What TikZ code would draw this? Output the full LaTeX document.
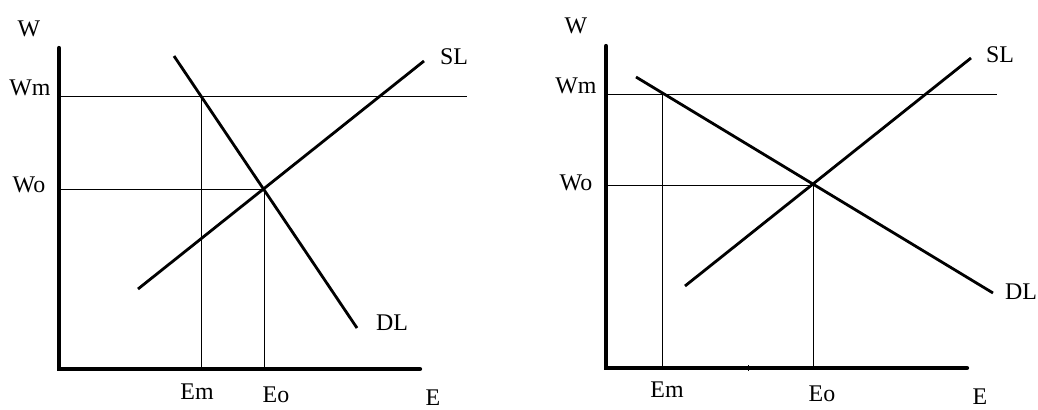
\documentclass[tikz,border=0pt]{standalone}
\usepackage{fontspec}
\setmainfont{Liberation Serif}
\begin{document}
\begin{tikzpicture}[x=0.025cm, y=-0.025cm,
        axis/.style={line width=3pt, line cap=round},
        curve/.style={line width=2pt},
        guide/.style={line width=0.7pt},
        lbl/.style={inner sep=0pt, font=\fontsize{17}{20}\selectfont}]

    \useasboundingbox (0,0) rectangle (1038,409);

    % --- Pannello sinistro ---
    \draw[axis] (59,48) -- (59,369) -- (420,369);
    \node[lbl] (wl) at (29,29) {W};
    \node[lbl] (wml) at (30,88) {Wm};
    \node[lbl] (wol) at (29,185) {Wo};
    \node[lbl] (eml) at (197,392) {Em};
    \node[lbl] (eol) at (276,395) {Eo};
    \node[lbl] (el) at (433,398) {E};
    % Linee guida
    \draw[guide] (61,96) -- (467,96);
    \draw[guide] (61,189) -- (264,189) -- (264,369);
    \draw[guide] (201,96) -- (201,369);
    % Domanda e offerta
    \draw[curve] (174,56) -- (357,328);
    \draw[curve] (138,289) -- (424,61);
    \node[lbl] (sll) at (454,57) {SL};
    \node[lbl] (dll) at (392,323) {DL};

    % --- Pannello destro ---
    \draw[axis] (606,46) -- (606,368) -- (967,368);
    \draw[guide] (748,365) -- (748,371);
    \node[lbl] (wr) at (576,26) {W};
    \node[lbl] (wmr) at (576,86) {Wm};
    \node[lbl] (wor) at (576,183) {Wo};
    \node[lbl] (emr) at (667,390) {Em};
    \node[lbl] (eor) at (822,394) {Eo};
    \node[lbl] (er) at (980,397) {E};
    % Linee guida
    \draw[guide] (608,94) -- (997,94);
    \draw[guide] (608,185) -- (813,185) -- (813,368);
    \draw[guide] (662,94) -- (662,368);
    % Domanda e offerta
    \draw[curve] (636,77) -- (993,293);
    \draw[curve] (685,286) -- (971,58);
    \node[lbl] (slr) at (1000,55) {SL};
    \node[lbl] (dlr) at (1021,292) {DL};

\end{tikzpicture}
\end{document}
